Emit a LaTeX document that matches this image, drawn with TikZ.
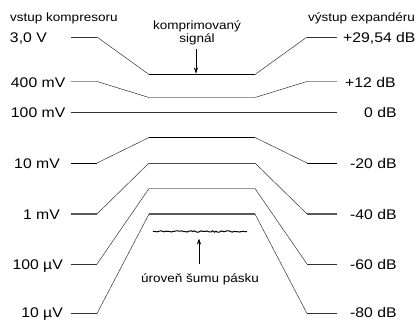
\documentclass[tikz,border=0pt]{standalone}
\usepackage{fontspec}
\setmainfont{Liberation Sans}[FakeStretch=1.13]
\usetikzlibrary{arrows.meta,decorations.pathmorphing}
\begin{document}
\begin{tikzpicture}[x=1bp,y=-1bp,
  lab/.style={font=\fontsize{14}{16}\selectfont, inner sep=0pt},
  ann/.style={font=\fontsize{12}{13.5}\selectfont, inner sep=0pt, align=center},
  diag/.style={line width=0.5bp, draw=black!80},
  thinflat/.style={line width=0.6bp, draw=black!80},
  blackflat/.style={line width=1.3bp, draw=black},
  lightflat/.style={line width=1.1bp, draw=black!40},
  darkflat/.style={line width=1.2bp, draw=black!65},
  arr/.style={line width=0.6bp, -{Stealth[length=6bp,width=4bp]}},
  noise/.style={line width=1bp, decorate, decoration={random steps, segment length=1.8bp, amplitude=0.7bp}}]
\useasboundingbox (0,0) rectangle (419,320);
\pgfmathsetseed{7}
\foreach \n/\yo/\ym in {1/37/74.5, 2/81.5/97.5, 3/112/112, 4/163/137.5, 5/214/163, 6/264/188.5, 7/313.5/214}{
  \coordinate (a\n) at (71,\yo);
  \coordinate (b\n) at (97,\yo);
  \coordinate (c\n) at (149,\ym);
  \coordinate (d\n) at (255,\ym);
  \coordinate (e\n) at (307,\yo);
  \coordinate (f\n) at (337,\yo);
}
% diagonals
\foreach \n in {1,2,4,5,6,7}{
  \draw[diag] (b\n) -- (c\n) (d\n) -- (e\n);
}
% line 1: 3,0 V
\draw[thinflat] (a1) -- (b1) (e1) -- (f1);
\draw[blackflat] (c1) -- (d1);
% line 2: 400 mV
\draw[lightflat] (a2) -- (b2) (e2) -- (f2);
\draw[lightflat] (c2) -- (d2);
% line 3: 100 mV
\draw[thinflat] (a3) -- (f3);
% line 4: 10 mV
\draw[line width=0.9bp] (a4) -- (b4) (e4) -- (f4);
\draw[line width=1bp] (c4) -- (d4);
% line 5: 1 mV
\draw[darkflat] (a5) -- (b5) (e5) -- (f5);
\draw[line width=0.8bp, draw=black!70] (c5) -- (d5);
% line 6: 100 uV
\draw[thinflat] (a6) -- (b6) (e6) -- (f6);
\draw[lightflat] (c6) -- (d6);
% line 7: 10 uV
\draw[thinflat] (a7) -- (b7) (e7) -- (f7);
\draw[darkflat] (c7) -- (d7);

% left labels
\node[lab, anchor=base east] (l1) at (47,42.5) {3,0 V};
\node[lab, anchor=base east] (l2) at (65.5,87) {400 mV};
\node[lab, anchor=base east] (l3) at (65.5,117.5) {100 mV};
\node[lab, anchor=base east] (l4) at (60,168.5) {10 mV};
\node[lab, anchor=base east] (l5) at (60,219.5) {1 mV};
\node[lab, anchor=base east] (l6) at (63,269.5) {100 µV};
\node[lab, anchor=base east] (l7) at (63,317) {10 µV};
% right labels
\node[lab, anchor=base west] (r1) at (343,42.5) {+29,54 dB};
\node[lab, anchor=base west] (r2) at (345,87) {+12 dB};
\node[lab, anchor=base west] (r3) at (364,117.5) {0 dB};
\node[lab, anchor=base west] (r4) at (350,168.5) {-20 dB};
\node[lab, anchor=base west] (r5) at (350,219.5) {-40 dB};
\node[lab, anchor=base west] (r6) at (350,269.5) {-60 dB};
\node[lab, anchor=base west] (r7) at (350,317) {-80 dB};

% titles
\node[ann, anchor=base west] (tin) at (10,21) {vstup kompresoru};
\node[ann, anchor=base west] (tout) at (308,21) {výstup expandéru};

% compressed signal
\node[ann, anchor=north] (sig) at (197,20.5) {komprimovaný\\signál};
\coordinate (ktip) at (196,73.5);
\draw[arr] ([yshift=-3.5bp]sig.south -| ktip) -- (ktip);

% noise
\coordinate (n0) at (153,231.5);
\coordinate (n1) at (247,231.5);
\draw[noise] (n0) -- (n1);
\node[ann, anchor=base] (ntxt) at (200,282) {úroveň šumu pásku};
\coordinate (ntip) at (199,238.5);
\draw[arr] ([yshift=9bp]ntxt.north -| ntip) -- (ntip);
\end{tikzpicture}
\end{document}
